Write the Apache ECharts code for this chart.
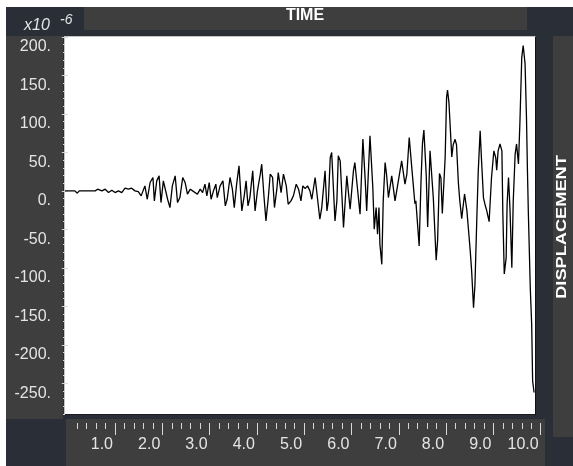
<!DOCTYPE html>
<html>
<head>
<meta charset="utf-8">
<script src="https://cdn.jsdelivr.net/npm/echarts@6/dist/echarts.min.js"></script>
<style>
  html, body { margin: 0; padding: 0; background: #fff; }
  #wrap { position: relative; width: 573px; height: 466px; overflow: hidden; }
  .p { position: absolute; }
  #chart { position: absolute; left: 0; top: 0; width: 573px; height: 466px; }
</style>
</head>
<body>
<div id="wrap">
  <!-- panels behind the chart -->
  <div class="p" style="left:6px;top:7px;width:567px;height:459px;background:#2a2e37"></div>
  <div class="p" style="left:84px;top:7px;width:443px;height:23px;background:#3e3e3e"></div>
  <div class="p" style="left:6px;top:36px;width:57px;height:383px;background:#3e3e3e"></div>
  <div class="p" style="left:553px;top:36px;width:20px;height:401px;background:#3e3e3e"></div>
  <div class="p" style="left:66px;top:419px;width:479px;height:47px;background:#3e3e3e"></div>
  <div class="p" style="left:64px;top:36px;width:470px;height:377px;background:#fff;border-top:1px solid #c4c4c4;border-left:1px solid #c4c4c4;border-bottom:1px solid #1c1c1c;border-right:1px solid #111"></div>
  <div id="chart"></div>
</div>
<script>
// time (s) of each turning point of the trace
var times = [
  -0.06, 0.15, 0.20, 0.24, 0.58, 0.63, 0.72, 0.79, 0.86, 0.93,
  1.00, 1.07, 1.14, 1.21, 1.28, 1.35, 1.42, 1.49, 1.55, 1.63,
  1.68, 1.74, 1.80, 1.83, 1.88, 1.93, 1.97, 2.02, 2.06, 2.11,
  2.16, 2.21, 2.27, 2.32, 2.37, 2.43, 2.48, 2.53, 2.59, 2.64,
  2.74, 2.80, 2.85, 2.90, 2.94, 2.99, 3.03, 3.08, 3.13, 3.16,
  3.22, 3.28, 3.33, 3.37, 3.43, 3.48, 3.52, 3.57, 3.62, 3.68,
  3.73, 3.77, 3.81, 3.85, 3.91, 3.96, 4.01, 4.07, 4.10, 4.15,
  4.19, 4.24, 4.28, 4.33, 4.37, 4.42, 4.45, 4.51, 4.56, 4.62,
  4.66, 4.72, 4.77, 4.83, 4.88, 4.93, 4.97, 5.02, 5.07, 5.12,
  5.16, 5.23, 5.26, 5.33, 5.37, 5.44, 5.48, 5.51, 5.55, 5.58,
  5.65, 5.69, 5.72, 5.76, 5.83, 5.90, 5.97, 6.04, 6.07, 6.18,
  6.24, 6.29, 6.32, 6.39, 6.45, 6.48, 6.52, 6.55, 6.58, 6.60,
  6.64, 6.67, 6.71, 6.74, 6.78, 6.85, 6.92, 6.99, 7.06, 7.13,
  7.17, 7.22, 7.28, 7.34, 7.36, 7.43, 7.47, 7.50, 7.53, 7.58,
  7.61, 7.66, 7.70, 7.73, 7.79, 7.82, 7.86, 7.89, 7.92, 7.94,
  7.98, 8.01, 8.03, 8.06, 8.12, 8.15, 8.19, 8.22, 8.26, 8.29,
  8.33, 8.36, 8.39, 8.44, 8.47, 8.51, 8.54, 8.58, 8.61, 8.65,
  8.68, 8.72, 8.75, 8.79, 8.82, 8.86, 8.91, 8.96, 9.01, 9.05,
  9.07, 9.10, 9.14, 9.18, 9.20, 9.23, 9.27, 9.29, 9.32, 9.35,
  9.39, 9.42, 9.46, 9.49, 9.53, 9.56, 9.60, 9.63, 9.67, 9.70,
  9.72, 9.74, 9.78, 9.81, 9.83, 9.86
];
// displacement in units of 1e-6
var displacement = [
  0, 0, -3, 0, 0, 2.2, 0, 2.2, -2.2, 0.9,
  -2.2, 0, -2.2, 3.5, 2.2, 3.5, 0, -0.9, -6.5, 6.5,
  -10.9, 10.9, 17.4, -13, 13, 19.5, -15.2, 13, 15.2, -10.9,
  -21.7, 6.5, 19.5, -15.2, -8.7, 17.4, 10.9, -4.3, 2.2, 0,
  -4.3, 2.2, -2.2, 8.7, -6.5, 10.9, -10.9, 0, 8.7, -8.7,
  6.5, 13, -19.5, -10.9, 17.4, 2.2, -21.7, 8.7, 32.6, -26,
  -6.5, 13, -19.5, -8.7, 26, -26, 0, 21.7, 34.7, -8.7,
  -39, -8.7, 21.7, 17.4, -21.7, 2.2, 23.9, -2.2, 21.7, 6.5,
  -17.4, -13, -6.5, 8.7, 2.2, -13, 6.5, 3, 6.5, 0,
  -10.9, 17.4, 17.4, -36.9, -21.7, 26, -26, -13, 43.4, 49.9,
  -39, -13, 45.6, 39, -47.7, 19.5, -23.9, 26, 36.9, -30.4,
  67.3, 13, -26, 71.6, 4.3, -49.9, -21.7, -56.4, -21.7, -69.4,
  -95.5, -13, 36.9, 21.7, -8.7, 19.5, -13, 13, 39, 8.7,
  21.7, 69.4, 26, -16.5, -13, -71.6, 14, 61.6, 79, 20,
  -47, 52, 53, -10, -90, -65, 22.5, 17, -29.5, -30,
  43.4, 121.5, 131, 115, 44, 60, 67, 60, 10, -13,
  -36, -20, -4, -26, -48, -78, -104, -152, -122, -35,
  26, 78, 39, -9, -17, -26, -40, 17, 52, 43,
  27, 52, 61, 52, -30, -108, -87, -17, 17.4, -22,
  -100, -13, 47.7, 61, 35, 87, 173.6, 189, 165, 95,
  27, -30, -126, -174, -247, -262
];

var yMajor = [200, 150, 100, 50, 0, -50, -100, -150, -200, -250];
var yTickLabels = ['200.', '150.', '100.', '50.', '0.', '-50.', '-100.', '-150.', '-200.', '-250.'];
var xMajor = [1, 2, 3, 4, 5, 6, 7, 8, 9, 10];
var xTickLabels = ['1.0', '2.0', '3.0', '4.0', '5.0', '6.0', '7.0', '8.0', '9.0', '10.0'];

var yMinor = [];
for (var v = -290; v <= 200; v += 10) { if (v % 50 !== 0) yMinor.push(v); }
var xMinor = [];
for (var k = 1; k < 50; k++) { if (k % 5 !== 0) xMinor.push(+(k * 0.2).toFixed(1)); }

var NARROW = "'Liberation Sans Narrow', 'Liberation Sans', Arial, sans-serif";
var tickColor = '#d8d8d8';
var labelColor = '#e4e4e4';

var chart = echarts.init(document.getElementById('chart'), null, { renderer: 'canvas' });

var option = {
  animation: false,
  backgroundColor: 'transparent',
  grid: [
    // data area
    { left: 65, top: 37, width: 470, height: 377, show: true, backgroundColor: '#fff', borderWidth: 0 },
    // time ticks strip
    { left: 67.7, top: 413, width: 473, height: 10, show: false }
  ],
  xAxis: [
    {
      gridIndex: 0, type: 'value', min: -0.06, max: 9.88, show: false
    },
    {
      gridIndex: 1, type: 'value', min: 0, max: 10, position: 'bottom',
      axisLine: { show: false, onZero: false },
      splitLine: { show: false },
      axisTick: { show: true, customValues: xMajor, length: 12, lineStyle: { color: tickColor, width: 1 } },
      axisLabel: {
        customValues: xMajor, margin: 14, color: labelColor, fontSize: 16, fontFamily: NARROW,
        align: 'right', verticalAlign: 'top', lineHeight: 16, padding: [0, 2, 0, 0],
        formatter: function (val) { return xTickLabels[xMajor.indexOf(Math.round(val))] || ''; }
      }
    },
    {
      gridIndex: 1, type: 'value', min: 0, max: 10, position: 'bottom',
      axisLine: { show: false, onZero: false },
      splitLine: { show: false },
      axisTick: { show: true, customValues: xMinor, length: 6, lineStyle: { color: tickColor, width: 1 } },
      axisLabel: { show: false }
    }
  ],
  yAxis: [
    {
      gridIndex: 0, type: 'value', min: -290, max: 200, position: 'left',
      axisLine: { show: false },
      splitLine: { show: false },
      axisTick: { show: true, customValues: yMajor, length: 6, lineStyle: { color: tickColor, width: 1 } },
      axisLabel: {
        customValues: yMajor, margin: 14, color: labelColor, fontSize: 16, fontFamily: NARROW,
        verticalAlign: 'top', lineHeight: 16, padding: [2, 0, 0, 0],
        formatter: function (val) { return yTickLabels[yMajor.indexOf(Math.round(val))] || ''; }
      }
    },
    {
      gridIndex: 0, type: 'value', min: -290, max: 200, position: 'left',
      axisLine: { show: false },
      splitLine: { show: false },
      axisTick: { show: true, customValues: yMinor, length: 2, lineStyle: { color: tickColor, width: 1 } },
      axisLabel: { show: false }
    },
    {
      gridIndex: 1, type: 'value', min: 0, max: 1, show: false
    }
  ],
  graphic: [
    {
      type: 'text', x: 305, y: 8,
      style: { text: 'TIME', fill: '#ffffff', font: "bold 16px " + NARROW, textAlign: 'center' }
    },
    {
      type: 'text', x: 24, y: 18,
      style: { text: 'x10', fill: labelColor, font: "italic 16px " + NARROW }
    },
    {
      type: 'text', x: 60, y: 13,
      style: { text: '-6', fill: labelColor, font: "italic 14px " + NARROW }
    },
    {
      type: 'text', x: 562, y: 227, rotation: Math.PI / 2, scaleX: 1.3,
      style: { text: 'DISPLACEMENT', fill: '#ffffff', font: "bold 14px " + NARROW, textAlign: 'center', textVerticalAlign: 'middle' }
    }
  ],
  series: [
    {
      name: 'DISPLACEMENT',
      type: 'line',
      xAxisIndex: 0,
      yAxisIndex: 0,
      showSymbol: false,
      symbol: 'none',
      lineStyle: { color: '#000', width: 1.3 },
      data: times.map(function (t, i) { return [t, displacement[i]]; })
    }
  ]
};

chart.setOption(option);
</script>
</body>
</html>
